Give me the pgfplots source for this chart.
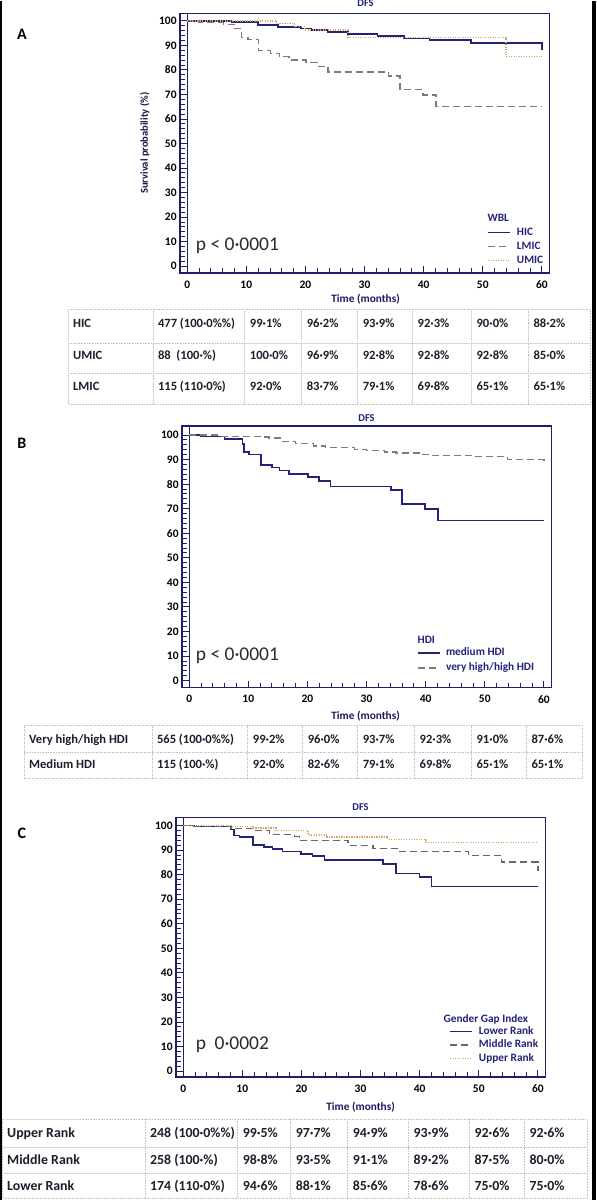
\documentclass[border=0pt]{standalone}
\usepackage{pgfplots}
\pgfplotsset{compat=1.18}
\usepackage{fontspec}
\setmainfont{Carlito}
\definecolor{navy}{HTML}{232378}
\definecolor{frame}{HTML}{1E1E6E}
\definecolor{lmic}{HTML}{8A7474}
\definecolor{umic}{HTML}{D6A35C}
\definecolor{midr}{HTML}{6E6666}
\definecolor{tabtext}{HTML}{1E1E2C}
\definecolor{tabline}{HTML}{C4C4C4}
\definecolor{ptext}{HTML}{2A2A2A}
\newcommand\tickfont{\bfseries\fontsize{11.5}{12}\selectfont}
\newcommand\tabfontAB{\bfseries\fontsize{12.6}{14}\selectfont}
\newcommand\tabfontC{\bfseries\fontsize{13.9}{15}\selectfont}
\pgfplotsset{
 km/.style={anchor=south west, scale only axis, width=370pt,
  xmin=-1.25, xmax=61.25, no markers, const plot,
  axis line style={frame, line width=1.6pt},
  xtick={0,10,...,60}, ytick={0,10,...,100},
  minor x tick num=4, minor y tick num=4,
  xtick pos=left, ytick pos=left,
  tick align=inside,
  major tick length=7pt, minor tick length=5pt,
  tick style={frame, line width=0.9pt},
  /pgf/number format/assume math mode=true,
  tick label style={font=\tickfont, text=black},
  xticklabel style={inner sep=0pt, anchor=north, yshift=-7.5pt},
  yticklabel style={inner sep=0pt, anchor=east, xshift=-3pt},
  extra x ticks={0}, extra x tick labels={},
  extra x tick style={grid=major, major grid style={frame, line width=1.2pt}},
  legend cell align=left,
  legend image code/.code={\draw[##1] (0pt,0pt) -- (22pt,0pt);},
  legend style={anchor=north west, draw=none, fill=none, inner sep=0pt, outer sep=0pt,
    column sep=6pt, font=\bfseries\fontsize{11.3}{12}\selectfont, text=navy,
    nodes={inner sep=0pt, text height=8pt, text depth=2.5pt}},
 },
 solidk/.style={navy, line width=1.6pt},
 dashk/.style={line width=1.3pt, dash pattern=on 7pt off 4pt},
 dotk/.style={line width=1.4pt, dash pattern=on 1.2pt off 1.3pt},
}
\newcommand\setcols[8]{\def\cA{#1}\def\cB{#2}\def\cC{#3}\def\cD{#4}\def\cE{#5}\def\cF{#6}\def\cG{#7}\def\cH{#8}}
\newcommand\trow[9]{%
 \node[cell] at ({\cA+5},#1) {#2};
 \node[cell] at ({\cB+5},#1) {#3};
 \node[cell] at ({\cC+5},#1) {#4};
 \node[cell] at ({\cD+5},#1) {#5};
 \node[cell] at ({\cE+5},#1) {#6};
 \node[cell] at ({\cF+5},#1) {#7};
 \node[cell] at ({\cG+5},#1) {#8};
 \node[cell] at ({\cH+5},#1) {#9};}
\begin{document}
\begin{tikzpicture}
\begin{scope}[x=1pt,y=-1pt]
\fill[white] (0,0) rectangle (597,1200);
\path[use as bounding box] (0,0) rectangle (597,1200);
\end{scope}

% ---------------- Panel A
\begin{axis}[km, at={(180pt,-272pt)}, height=260pt, ymin=-2.85, ymax=103.0,
  legend style={at={(0.8324,0.1769)}, row sep=3.5pt}]
\addplot[solidk] coordinates {(0,100)(7.5,99.6)(12,98.2)(15.4,97.6)(19.3,96.9)(21,96.2)(23.8,95.5)(27.2,94.6)(32.2,93.8)(36.7,92.8)(41,92.1)(48,91.0)(60,91.0)(60,88.3)};
\addlegendentry{HIC}
\addplot[lmic, dashk] coordinates {(0,100)(2,99.3)(6.1,98.6)(8,96.8)(9.2,93.2)(10.3,92.3)(12.1,87.9)(14.1,86.8)(15.6,85.5)(17.2,84.0)(20.1,83.0)(22,81.5)(23.8,79.1)(34,77.5)(36,72.0)(39.9,69.8)(42.1,65.1)(60,65.1)};
\addlegendentry{LMIC}
\addplot[umic, dotk] coordinates {(0,100)(15.1,98.9)(18.2,97.6)(19.9,96.2)(27.2,93.2)(53.9,85.5)(60,85.5)};
\addlegendentry{UMIC}
\end{axis}

% ---------------- Panel B
\begin{axis}[km, at={(182pt,-687pt)}, height=262pt, ymin=-2.85, ymax=103.66,
  legend style={at={(0.6378,0.1527)}, row sep=4.5pt, column sep=5pt}]
\addplot[solidk] coordinates {(0,100)(2,99.3)(6,98.3)(9,96.3)(9.3,93.0)(10.1,92.0)(12.1,87.8)(14,86.8)(15.3,85.5)(16.9,84.0)(20.1,82.8)(22,81.3)(23.9,79.1)(34.1,77.5)(36,72.0)(39.9,69.8)(42.1,65.1)(60,65.1)};
\addlegendentry{medium HDI}
\addplot[lmic, dashk] coordinates {(0,100)(5,99.5)(12,99.2)(13.5,98.7)(15.5,97.4)(18,96.5)(21,95.5)(23,94.9)(28,94.2)(30,93.8)(33,93.1)(35,92.6)(39,92.1)(41,91.7)(48,91.1)(53.8,90.0)(60,90.0)(60,88.0)};
\addlegendentry{very high/high HDI}
\end{axis}

% ---------------- Panel C
\begin{axis}[km, at={(176pt,-1077pt)}, height=260pt, ymin=-2.44, ymax=103.25,
  legend style={at={(0.7405,0.196)}, row sep=3pt}]
\addplot[solidk] coordinates {(0,100)(1.9,99.6)(8.1,98.4)(8.6,95.9)(9.5,95.3)(11.8,92.1)(13.7,91.2)(15.1,90.5)(16.8,89.4)(19.9,88.5)(21.9,87.5)(23.9,86.0)(33.8,84.4)(36,80.4)(40,79.0)(42,75.2)(60,75.2)};
\addlegendentry{Lower Rank}
\addplot[midr, dashk] coordinates {(0,100)(1.6,99.5)(8.1,98.9)(11.8,98.0)(14.6,96.3)(18.8,95.5)(19.7,93.9)(27.9,91.9)(32.1,90.5)(36.6,89.4)(48.2,87.8)(53.8,85.1)(60,85.1)(60,81.5)};
\addlegendentry{Middle Rank}
\addplot[umic, dotk] coordinates {(0,100)(8.1,99.6)(11.8,98.9)(15.7,98.0)(21.1,96.2)(24.2,95.3)(34.6,94.2)(41.1,93.0)(60,93.0)};
\addlegendentry{Upper Rank}
\end{axis}

\begin{scope}[x=1pt,y=-1pt]
% black frame strips
\fill[black] (0,0) rectangle (2,1200);
\fill[black] (593,0) rectangle (597,1200);
% panel letters
\node[font=\bfseries\fontsize{16}{18}\selectfont] at (22,33) {A};
\node[font=\bfseries\fontsize{16}{18}\selectfont] at (22,442) {B};
\node[font=\bfseries\fontsize{16}{18}\selectfont] at (22,833) {C};
% titles
\tikzset{ttl/.style={font=\bfseries\fontsize{10.5}{12}\selectfont, text=navy, inner sep=0pt}}
\node[ttl] at (366,2) {DFS};
\node[ttl] at (367,417) {DFS};
\node[ttl] at (361,807) {DFS};
\tikzset{tm/.style={font=\bfseries\fontsize{11.3}{12}\selectfont, text=navy!80!black, inner sep=0pt}}
\node[tm] at (366,298) {Time (months)};
\node[tm] at (366,716) {Time (months)};
\node[tm] at (361,1107) {Time (months)};
\node[rotate=90, font=\bfseries\fontsize{10.5}{12}\selectfont, text=navy!60!black, inner sep=0pt] at (145,142) {Survival probability (\%)};
% p values
\tikzset{pv/.style={font=\fontsize{19.5}{22}\selectfont, text=ptext, anchor=west, inner sep=0pt}}
\node[pv] at (196,245) {p < 0·0001};
\node[pv] at (196,655) {p < 0·0001};
\node[pv] at (196,1045) {p\hspace{8.5pt}0·0002};
% legend titles
\tikzset{lt/.style={font=\bfseries\fontsize{11.3}{12}\selectfont, text=navy, anchor=west, inner sep=0pt}}
\node[lt] at (488,217) {WBL};
\node[lt] at (418,639) {HDI};
\node[lt] at (444,1019) {Gender Gap Index};

% ---------------- Table A
\tikzset{cell/.style={anchor=base west, inner sep=0pt, text=tabtext, font=\tabfontAB}}
\draw[tabline, line width=0.6pt, densely dotted] (68,308) rectangle (591,403);
\foreach \yy in {342,372} \draw[tabline, line width=0.6pt, densely dotted] (68,\yy) -- (591,\yy);
\foreach \xx in {153,245,302,358,413,472,529} \draw[tabline, line width=0.6pt, densely dotted] (\xx,308) -- (\xx,403);
\setcols{68}{153}{245}{302}{358}{413}{472}{529}
\trow{326}{HIC}{477 (100·0\%\%)}{99·1\%}{96·2\%}{93·9\%}{92·3\%}{90·0\%}{88·2\%}
\trow{358}{UMIC}{88\ \ (100·\%)}{100·0\%}{96·9\%}{92·8\%}{92·8\%}{92·8\%}{85·0\%}
\trow{389}{LMIC}{115 (110·0\%)}{92·0\%}{83·7\%}{79·1\%}{69·8\%}{65·1\%}{65·1\%}

% ---------------- Table B
\draw[tabline, line width=0.6pt, densely dotted] (24,725) rectangle (583,778);
\draw[tabline, line width=0.6pt, densely dotted] (24,752) -- (583,752);
\foreach \xx in {152,248,303,358,415,472,527} \draw[tabline, line width=0.6pt, densely dotted] (\xx,725) -- (\xx,778);
\setcols{24}{152}{248}{303}{358}{415}{472}{527}
\trow{743}{Very high/high HDI}{565 (100·0\%\%)}{99·2\%}{96·0\%}{93·7\%}{92·3\%}{91·0\%}{87·6\%}
\trow{768}{Medium HDI}{115 (100·\%)}{92·0\%}{82·6\%}{79·1\%}{69·8\%}{65·1\%}{65·1\%}

% ---------------- Table C
\tikzset{cell/.style={anchor=base west, inner sep=0pt, text=tabtext, font=\tabfontC}}
\draw[tabline, line width=0.6pt, densely dotted] (2,1119) rectangle (588,1198);
\foreach \yy in {1147,1173} \draw[tabline, line width=0.6pt, densely dotted] (2,\yy) -- (588,\yy);
\foreach \xx in {145,238,291,348,409,470,525} \draw[tabline, line width=0.6pt, densely dotted] (\xx,1119) -- (\xx,1198);
\setcols{2}{145}{238}{291}{348}{409}{470}{525}
\trow{1137}{Upper Rank}{248 (100·0\%\%)}{99·5\%}{97·7\%}{94·9\%}{93·9\%}{92·6\%}{92·6\%}
\trow{1164}{Middle Rank}{258 (100·\%)}{98·8\%}{93·5\%}{91·1\%}{89·2\%}{87·5\%}{80·0\%}
\trow{1190}{Lower Rank}{174 (110·0\%)}{94·6\%}{88·1\%}{85·6\%}{78·6\%}{75·0\%}{75·0\%}
\end{scope}
\end{tikzpicture}
\end{document}
